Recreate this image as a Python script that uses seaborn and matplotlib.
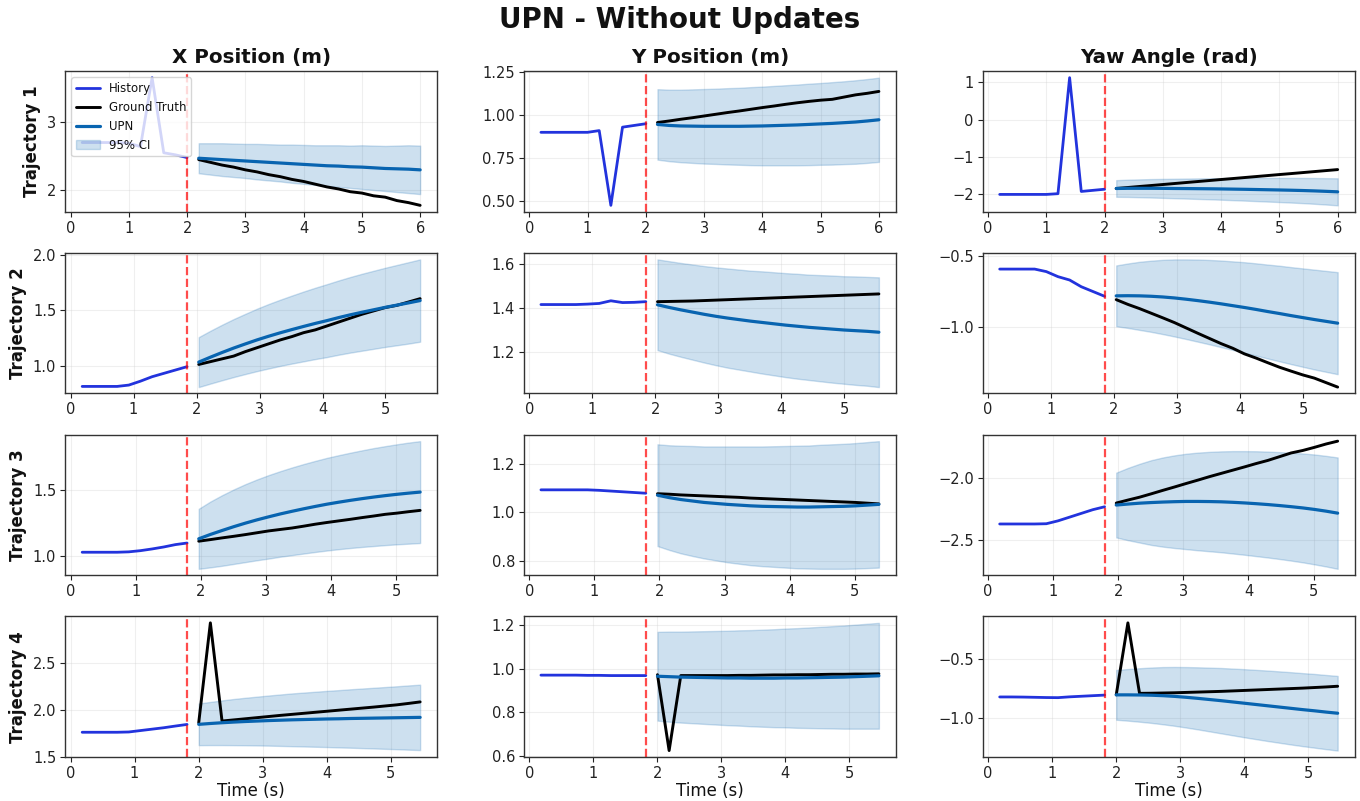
import numpy as np
import matplotlib
matplotlib.use("Agg")
import matplotlib.pyplot as plt
import seaborn as sns

# ---------------------------------------------------------------------------
# Data: 10 history samples + 20 prediction samples per trajectory
# ---------------------------------------------------------------------------
sample_period = [0.200, 0.185, 0.179, 0.182]   # seconds between samples
n_hist, n_pred = 10, 20

columns = ["X Position (m)", "Y Position (m)", "Yaw Angle (rad)"]
row_labels = ["Trajectory 1", "Trajectory 2", "Trajectory 3", "Trajectory 4"]

# Trajectory 1
hist_x1 = [2.70, 2.70, 2.70, 2.70, 2.69, 2.64, 3.65, 2.55, 2.52, 2.48]
gt_x1 = [2.45, 2.41, 2.37, 2.34, 2.30, 2.27, 2.23, 2.20, 2.16, 2.13,
         2.09, 2.05, 2.02, 1.98, 1.96, 1.92, 1.90, 1.85, 1.82, 1.78]
upn_x1 = [2.47, 2.46, 2.45, 2.44, 2.43, 2.42, 2.41, 2.40, 2.39, 2.38,
          2.37, 2.36, 2.355, 2.345, 2.34, 2.33, 2.32, 2.315, 2.31, 2.30]
ci_x1 = [0.22, 0.23, 0.24, 0.245, 0.25, 0.26, 0.265, 0.27, 0.28, 0.285,
         0.29, 0.30, 0.305, 0.31, 0.32, 0.325, 0.33, 0.34, 0.35, 0.355]

hist_y1 = [0.90, 0.90, 0.90, 0.90, 0.90, 0.91, 0.475, 0.93, 0.94, 0.95]
gt_y1 = [0.957, 0.966, 0.976, 0.985, 0.995, 1.005, 1.015, 1.024, 1.034, 1.044,
         1.053, 1.063, 1.072, 1.080, 1.087, 1.092, 1.105, 1.118, 1.127, 1.138]
upn_y1 = [0.946, 0.940, 0.937, 0.936, 0.935, 0.935, 0.935, 0.935, 0.936, 0.937,
          0.939, 0.941, 0.943, 0.946, 0.949, 0.952, 0.956, 0.960, 0.966, 0.973]
ci_y1 = [0.205, 0.208, 0.211, 0.214, 0.217, 0.219, 0.222, 0.224, 0.227, 0.229,
         0.231, 0.233, 0.235, 0.237, 0.238, 0.240, 0.241, 0.243, 0.244, 0.245]

hist_yaw1 = [-2.02, -2.02, -2.02, -2.02, -2.02, -2.00, 1.13, -1.94, -1.91, -1.88]
gt_yaw1 = [-1.860, -1.833, -1.806, -1.780, -1.753, -1.726, -1.699, -1.672, -1.645, -1.618,
           -1.592, -1.565, -1.538, -1.511, -1.484, -1.458, -1.431, -1.404, -1.377, -1.350]
upn_yaw1 = [-1.860, -1.855, -1.855, -1.855, -1.857, -1.860, -1.862, -1.865, -1.868, -1.872,
            -1.877, -1.882, -1.888, -1.894, -1.900, -1.907, -1.915, -1.925, -1.937, -1.950]
ci_yaw1 = [0.225, 0.233, 0.241, 0.249, 0.256, 0.263, 0.270, 0.277, 0.284, 0.291,
           0.298, 0.305, 0.312, 0.319, 0.326, 0.333, 0.340, 0.348, 0.356, 0.365]

# Trajectory 2
hist_x2 = [0.818, 0.818, 0.818, 0.818, 0.830, 0.865, 0.905, 0.935, 0.965, 0.995]
gt_x2 = [1.015, 1.040, 1.065, 1.090, 1.130, 1.165, 1.200, 1.235, 1.265, 1.300,
         1.325, 1.360, 1.395, 1.430, 1.465, 1.495, 1.525, 1.545, 1.575, 1.605]
upn_x2 = [1.036, 1.080, 1.122, 1.162, 1.199, 1.235, 1.268, 1.299, 1.328, 1.356,
          1.383, 1.408, 1.435, 1.460, 1.483, 1.505, 1.527, 1.547, 1.567, 1.588]
ci_x2 = [0.224, 0.237, 0.249, 0.260, 0.270, 0.280, 0.289, 0.297, 0.305, 0.313,
         0.320, 0.327, 0.333, 0.339, 0.345, 0.350, 0.355, 0.360, 0.365, 0.369]

hist_y2 = [1.415, 1.415, 1.415, 1.415, 1.417, 1.420, 1.432, 1.424, 1.425, 1.428]
gt_y2 = [1.428, 1.429, 1.430, 1.431, 1.433, 1.435, 1.437, 1.439, 1.441, 1.443,
         1.445, 1.447, 1.449, 1.451, 1.453, 1.455, 1.457, 1.459, 1.461, 1.463]
upn_y2 = [1.414, 1.402, 1.391, 1.381, 1.371, 1.362, 1.354, 1.347, 1.340, 1.334,
          1.328, 1.322, 1.317, 1.312, 1.308, 1.304, 1.300, 1.297, 1.294, 1.290]
ci_y2 = [0.205, 0.209, 0.212, 0.215, 0.218, 0.221, 0.224, 0.226, 0.228, 0.231,
         0.233, 0.235, 0.237, 0.238, 0.240, 0.242, 0.243, 0.245, 0.246, 0.248]

hist_yaw2 = [-0.590, -0.590, -0.590, -0.590, -0.608, -0.644, -0.668, -0.716, -0.750, -0.784]
gt_yaw2 = [-0.808, -0.842, -0.872, -0.905, -0.938, -0.972, -1.010, -1.048, -1.085, -1.122,
           -1.155, -1.195, -1.225, -1.258, -1.290, -1.318, -1.345, -1.368, -1.400, -1.432]
upn_yaw2 = [-0.781, -0.780, -0.781, -0.784, -0.789, -0.796, -0.805, -0.815, -0.826, -0.838,
            -0.851, -0.864, -0.878, -0.893, -0.907, -0.922, -0.936, -0.950, -0.963, -0.976]
ci_yaw2 = [0.217, 0.230, 0.243, 0.254, 0.265, 0.275, 0.284, 0.293, 0.301, 0.309,
           0.316, 0.323, 0.329, 0.335, 0.341, 0.346, 0.351, 0.356, 0.360, 0.364]

# Trajectory 3
hist_x3 = [1.030, 1.030, 1.030, 1.030, 1.033, 1.042, 1.055, 1.070, 1.088, 1.100]
gt_x3 = [1.114, 1.126, 1.139, 1.151, 1.164, 1.178, 1.192, 1.203, 1.214, 1.228,
         1.243, 1.256, 1.268, 1.280, 1.293, 1.305, 1.318, 1.327, 1.338, 1.348]
upn_x3 = [1.132, 1.165, 1.195, 1.224, 1.251, 1.276, 1.299, 1.321, 1.341, 1.360,
          1.378, 1.395, 1.410, 1.424, 1.437, 1.449, 1.460, 1.470, 1.479, 1.487]
ci_x3 = [0.228, 0.250, 0.268, 0.283, 0.296, 0.307, 0.317, 0.325, 0.333, 0.340,
         0.346, 0.352, 0.357, 0.362, 0.367, 0.372, 0.376, 0.380, 0.384, 0.387]

hist_y3 = [1.092, 1.092, 1.092, 1.092, 1.092, 1.090, 1.087, 1.084, 1.081, 1.078]
gt_y3 = [1.076, 1.074, 1.071, 1.069, 1.067, 1.065, 1.063, 1.061, 1.058, 1.056,
         1.054, 1.052, 1.050, 1.048, 1.046, 1.044, 1.042, 1.040, 1.037, 1.034]
upn_y3 = [1.070, 1.060, 1.052, 1.046, 1.040, 1.036, 1.032, 1.029, 1.026, 1.024,
          1.023, 1.022, 1.021, 1.021, 1.022, 1.023, 1.024, 1.026, 1.029, 1.032]
ci_y3 = [0.210, 0.216, 0.222, 0.227, 0.231, 0.235, 0.239, 0.242, 0.245, 0.247,
         0.249, 0.251, 0.253, 0.254, 0.256, 0.257, 0.258, 0.259, 0.260, 0.261]

hist_yaw3 = [-2.370, -2.370, -2.370, -2.370, -2.368, -2.345, -2.315, -2.285, -2.255, -2.232]
gt_yaw3 = [-2.202, -2.178, -2.155, -2.128, -2.100, -2.073, -2.045, -2.018, -1.990, -1.964,
           -1.938, -1.912, -1.885, -1.860, -1.830, -1.800, -1.780, -1.755, -1.728, -1.705]
upn_yaw3 = [-2.218, -2.210, -2.203, -2.198, -2.194, -2.191, -2.189, -2.189, -2.190, -2.192,
            -2.196, -2.201, -2.207, -2.214, -2.222, -2.231, -2.241, -2.253, -2.267, -2.283]
ci_yaw3 = [0.260, 0.290, 0.316, 0.340, 0.358, 0.372, 0.383, 0.392, 0.399, 0.405,
           0.411, 0.416, 0.421, 0.425, 0.429, 0.433, 0.437, 0.441, 0.444, 0.447]

# Trajectory 4
hist_x4 = [1.762, 1.762, 1.762, 1.762, 1.765, 1.780, 1.795, 1.810, 1.828, 1.845]
gt_x4 = [1.863, 2.923, 1.881, 1.893, 1.905, 1.917, 1.929, 1.941, 1.952, 1.963,
         1.974, 1.985, 1.996, 2.007, 2.018, 2.029, 2.041, 2.053, 2.068, 2.084]
upn_x4 = [1.846, 1.855, 1.863, 1.870, 1.876, 1.881, 1.886, 1.890, 1.894, 1.897,
          1.900, 1.903, 1.905, 1.908, 1.910, 1.912, 1.914, 1.916, 1.918, 1.920]
ci_x4 = [0.221, 0.229, 0.237, 0.245, 0.252, 0.259, 0.266, 0.273, 0.280, 0.286,
         0.292, 0.298, 0.304, 0.310, 0.316, 0.322, 0.328, 0.334, 0.341, 0.347]

hist_y4 = [0.970, 0.970, 0.970, 0.970, 0.969, 0.969, 0.968, 0.968, 0.968, 0.968]
gt_y4 = [0.972, 0.625, 0.968, 0.968, 0.968, 0.968, 0.968, 0.969, 0.969, 0.970,
         0.971, 0.971, 0.972, 0.972, 0.973, 0.974, 0.974, 0.975, 0.975, 0.976]
upn_y4 = [0.965, 0.963, 0.961, 0.960, 0.959, 0.958, 0.957, 0.957, 0.956, 0.956,
          0.956, 0.957, 0.957, 0.958, 0.959, 0.960, 0.961, 0.963, 0.965, 0.967]
ci_y4 = [0.203, 0.206, 0.208, 0.210, 0.212, 0.214, 0.216, 0.218, 0.220, 0.222,
         0.224, 0.226, 0.228, 0.230, 0.232, 0.234, 0.236, 0.238, 0.240, 0.242]

hist_yaw4 = [-0.823, -0.823, -0.824, -0.826, -0.828, -0.829, -0.822, -0.817, -0.812, -0.807]
gt_yaw4 = [-0.805, -0.186, -0.792, -0.791, -0.789, -0.787, -0.784, -0.781, -0.778, -0.775,
           -0.771, -0.767, -0.763, -0.759, -0.755, -0.751, -0.747, -0.742, -0.737, -0.731]
upn_yaw4 = [-0.805, -0.805, -0.806, -0.808, -0.812, -0.818, -0.826, -0.835, -0.845, -0.855,
            -0.866, -0.877, -0.888, -0.899, -0.910, -0.921, -0.932, -0.942, -0.953, -0.963]
ci_yaw4 = [0.214, 0.222, 0.230, 0.238, 0.246, 0.253, 0.260, 0.267, 0.274, 0.281,
           0.287, 0.293, 0.298, 0.303, 0.307, 0.311, 0.314, 0.317, 0.319, 0.321]

# Axis ticks
xticks_rows = [[0, 1, 2, 3, 4, 5, 6], [0, 1, 2, 3, 4, 5],
               [0, 1, 2, 3, 4, 5], [0, 1, 2, 3, 4, 5]]
yticks_traj1 = [[2, 3], [0.50, 0.75, 1.00, 1.25], [-2, -1, 0, 1]]
yticks_traj2 = [[1.0, 1.5, 2.0], [1.2, 1.4, 1.6], [-1.0, -0.5]]
yticks_traj3 = [[1.0, 1.5], [0.8, 1.0, 1.2], [-2.5, -2.0]]
yticks_traj4 = [[1.5, 2.0, 2.5], [0.6, 0.8, 1.0, 1.2], [-1.0, -0.5]]

panels = [
    [(hist_x1, gt_x1, upn_x1, ci_x1), (hist_y1, gt_y1, upn_y1, ci_y1), (hist_yaw1, gt_yaw1, upn_yaw1, ci_yaw1)],
    [(hist_x2, gt_x2, upn_x2, ci_x2), (hist_y2, gt_y2, upn_y2, ci_y2), (hist_yaw2, gt_yaw2, upn_yaw2, ci_yaw2)],
    [(hist_x3, gt_x3, upn_x3, ci_x3), (hist_y3, gt_y3, upn_y3, ci_y3), (hist_yaw3, gt_yaw3, upn_yaw3, ci_yaw3)],
    [(hist_x4, gt_x4, upn_x4, ci_x4), (hist_y4, gt_y4, upn_y4, ci_y4), (hist_yaw4, gt_yaw4, upn_yaw4, ci_yaw4)],
]
yticks_all = [yticks_traj1, yticks_traj2, yticks_traj3, yticks_traj4]

# ---------------------------------------------------------------------------
# Style
# ---------------------------------------------------------------------------
sns.set_style("ticks")
plt.rcParams["font.family"] = ["DejaVu Sans"]
plt.rcParams["axes.edgecolor"] = "#333333"
plt.rcParams["xtick.color"] = "#222222"
plt.rcParams["ytick.color"] = "#222222"
plt.rcParams["text.color"] = "#111111"
plt.rcParams["axes.labelcolor"] = "#111111"

HIST_C = "#2233dd"
UPN_C = "#0864b0"
GT_C = "black"

fig, axes = plt.subplots(4, 3, figsize=(13.6, 8.01), dpi=100)
fig.subplots_adjust(left=0.048, right=0.996, top=0.911, bottom=0.055,
                    wspace=0.234, hspace=0.294)

for r in range(4):
    dt = sample_period[r]
    t_hist = dt * np.arange(1, n_hist + 1)
    t_pred = dt * np.arange(n_hist + 1, n_hist + n_pred + 1)
    for c in range(3):
        ax = axes[r, c]
        hist, gt, upn, ci = (np.asarray(a, dtype=float) for a in panels[r][c])

        sns.lineplot(x=t_hist, y=hist, ax=ax, color=HIST_C, linewidth=2.0,
                     label="History", legend=False, errorbar=None)
        sns.lineplot(x=t_pred, y=gt, ax=ax, color=GT_C, linewidth=2.1,
                     label="Ground Truth", legend=False, errorbar=None)
        sns.lineplot(x=t_pred, y=upn, ax=ax, color=UPN_C, linewidth=2.3,
                     label="UPN", legend=False, errorbar=None)
        ax.fill_between(t_pred, upn - ci, upn + ci, color=UPN_C, alpha=0.2,
                        label="95% CI")
        ax.axvline(t_hist[-1], color="red", linestyle="--", linewidth=1.6, alpha=0.7)

        ax.grid(True, alpha=0.3)
        ax.set_xticks(xticks_rows[r])
        ax.set_yticks(yticks_all[r][c])
        ax.tick_params(labelsize=10.5, length=3.5, width=0.8, pad=3)
        for sp in ax.spines.values():
            sp.set_linewidth(1.0)
        ax.set_xlabel("")
        ax.set_ylabel("")

        if r == 0:
            ax.set_title(columns[c], fontsize=14.3, fontweight="bold")
        if c == 0:
            ax.set_ylabel(row_labels[r], fontsize=12, fontweight="bold")
        if r == 3:
            ax.set_xlabel("Time (s)", fontsize=12, labelpad=1)

axes[0, 0].legend(loc="upper left", fontsize=8.5, framealpha=0.8)

fig.suptitle("UPN - Without Updates", fontsize=20, fontweight="bold", y=0.993)

fig.savefig("out.png", dpi=100)
